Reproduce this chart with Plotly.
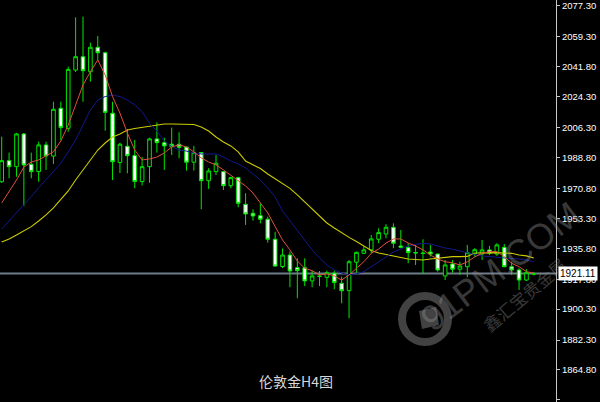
import plotly.graph_objects as go

# ---------------- data ----------------
bars = list(range(73))

opens = [1974.7, 1987.0, 1983.5, 2002.6, 1984.9, 1980.6, 1996.2, 1989.7, 2017.6, 2005.9,
         2039.9, 2047.7, 2038.9, 2053.2, 2050.0, 2014.7, 1985.9, 1995.4, 1990.0, 1974.8,
         1983.5, 1999.7, 1997.5, 1996.6, 1996.6, 1995.0, 1986.1, 1991.7, 1975.3, 1980.6,
         1980.6, 1972.4, 1977.1, 1961.5, 1956.3, 1954.9, 1952.8, 1941.1, 1925.2, 1931.9,
         1924.5, 1924.5, 1916.8, 1919.7, 1918.9, 1921.3, 1915.4, 1911.1, 1927.7, 1932.9,
         1934.9, 1941.1, 1944.2, 1948.1, 1937.2, 1936.4, 1933.4, 1933.1, 1933.7, 1932.5,
         1919.7, 1926.7, 1923.6, 1925.1, 1932.5, 1932.5, 1934.9, 1932.5, 1936.4, 1925.1,
         1923.2, 1917.3, 1920.6]

highs = [2001.0, 1991.7, 2003.2, 2003.2, 1991.7, 1998.1, 1998.1, 2021.4, 2021.4, 2041.9,
         2070.7, 2071.1, 2055.9, 2059.8, 2050.6, 2021.4, 1997.5, 2005.5, 1999.1, 1989.2,
         2000.4, 2009.4, 2000.4, 2006.3, 2003.6, 1995.0, 1995.6, 1992.0, 1982.6, 1990.3,
         1980.6, 1977.6, 1977.6, 1968.0, 1958.6, 1962.1, 1954.3, 1945.5, 1935.7, 1933.9,
         1930.0, 1930.0, 1922.8, 1922.6, 1922.8, 1922.8, 1919.3, 1929.0, 1933.9, 1936.8,
         1943.6, 1947.5, 1949.9, 1950.4, 1946.5, 1938.8, 1937.8, 1941.1, 1937.8, 1932.5,
         1929.0, 1929.0, 1928.0, 1937.8, 1935.9, 1940.7, 1937.2, 1938.8, 1938.4, 1928.0,
         1924.2, 1923.6, 1922.0]

lows = [1974.0, 1976.7, 1977.6, 1960.5, 1976.7, 1974.7, 1981.6, 1985.1, 1999.1, 2003.9,
        2038.8, 2021.4, 2033.1, 2045.8, 2004.5, 1975.7, 1979.8, 1979.6, 1970.9, 1972.5,
        1974.1, 1991.7, 1981.6, 1990.3, 1988.4, 1981.2, 1981.2, 1958.6, 1970.5, 1978.6,
        1969.9, 1970.9, 1959.8, 1949.5, 1952.0, 1950.4, 1939.1, 1924.9, 1924.3, 1913.1,
        1906.7, 1913.8, 1913.1, 1913.8, 1913.1, 1911.9, 1903.7, 1895.0, 1921.6, 1932.5,
        1932.9, 1938.8, 1941.7, 1935.9, 1935.9, 1927.1, 1926.1, 1920.9, 1931.0, 1922.2,
        1917.3, 1921.6, 1920.3, 1918.9, 1931.0, 1929.0, 1931.9, 1931.4, 1924.8, 1920.3,
        1911.5, 1916.8, 1920.0]

closes = [1987.0, 1983.5, 2002.6, 1984.5, 1980.6, 1996.2, 1989.7, 2017.0, 2006.3, 2040.3,
          2047.7, 2039.5, 2053.2, 2050.0, 2015.2, 1986.4, 1996.6, 1989.9, 1974.8, 1983.5,
          1999.7, 1997.5, 1995.6, 1995.2, 1994.8, 1986.1, 1991.7, 1975.3, 1981.0, 1985.5,
          1972.4, 1977.1, 1962.1, 1955.9, 1954.7, 1952.8, 1941.1, 1925.5, 1931.9, 1922.6,
          1922.8, 1916.8, 1919.7, 1919.4, 1921.6, 1915.8, 1911.1, 1928.0, 1933.5, 1934.9,
          1941.3, 1945.0, 1948.1, 1938.8, 1936.4, 1933.3, 1933.1, 1932.8, 1932.5, 1923.2,
          1926.1, 1923.6, 1925.5, 1933.3, 1935.0, 1934.9, 1932.9, 1937.8, 1925.1, 1923.2,
          1917.3, 1921.6, 1921.11]

ma_red = [1962.3, 1968.7, 1975.7, 1983.3, 1986.2, 1987.4, 1989.9, 1992.2, 1998.5, 2007.8,
          2019.5, 2031.2, 2038.9, 2045.8, 2037.0, 2024.4, 2014.7, 2003.2, 1993.2, 1987.4,
          1988.0, 1989.1, 1991.5, 1995.0, 1996.2, 1995.0, 1992.1, 1988.6, 1986.2, 1984.5,
          1981.6, 1978.6, 1975.7, 1972.2, 1968.1, 1962.3, 1956.5, 1948.5, 1940.7, 1934.9,
          1928.4, 1924.2, 1922.8, 1920.3, 1920.9, 1919.7, 1917.3, 1920.3, 1924.2, 1928.0,
          1932.9, 1935.4, 1938.9, 1941.3, 1941.3, 1938.9, 1937.2, 1934.9, 1931.9, 1929.6,
          1928.0, 1927.4, 1926.1, 1927.9, 1930.8, 1932.9, 1933.9, 1933.9, 1931.0, 1927.1,
          1925.1, 1922.2, 1921.3]

ma_blue = [1947.1, 1951.8, 1956.3, 1961.1, 1966.0, 1971.1, 1975.7, 1980.4, 1985.5, 1992.1,
           1999.1, 2007.8, 2016.6, 2022.4, 2024.4, 2025.3, 2024.4, 2022.4, 2019.5, 2015.6,
           2008.8, 2004.3, 1998.5, 1995.2, 1993.2, 1992.6, 1991.5, 1990.9, 1990.9, 1990.9,
           1989.2, 1986.8, 1985.1, 1982.7, 1979.2, 1975.7, 1971.1, 1965.8, 1957.6, 1951.8,
           1946.5, 1940.7, 1934.9, 1930.2, 1926.1, 1923.2, 1921.4, 1920.3, 1920.9, 1922.2,
           1924.9, 1927.9, 1930.8, 1933.7, 1935.4, 1937.2, 1938.1, 1938.7, 1938.4, 1937.2,
           1936.0, 1935.3, 1934.3, 1932.9, 1932.2, 1931.4, 1930.8, 1930.6, 1930.2, 1930.0,
           1929.6, 1929.0, 1928.0]

ma_yellow = [1939.5, 1941.3, 1943.6, 1946.0, 1948.5, 1951.8, 1955.3, 1959.4, 1964.1, 1969.3,
             1975.7, 1981.5, 1987.4, 1993.2, 1997.3, 2000.8, 2002.6, 2004.9, 2005.8, 2006.5,
             2006.8, 2007.8, 2008.4, 2008.4, 2008.4, 2008.4, 2008.1, 2006.7, 2004.3, 2000.8,
             1997.9, 1995.6, 1992.1, 1986.8, 1984.5, 1982.4, 1979.2, 1976.3, 1973.4, 1970.8,
             1967.0, 1962.9, 1958.2, 1954.4, 1950.6, 1947.7, 1944.8, 1942.2, 1939.8, 1937.2,
             1934.6, 1933.1, 1932.2, 1931.4, 1930.5, 1929.6, 1929.3, 1929.0, 1929.6, 1930.2,
             1930.8, 1931.0, 1931.0, 1931.1, 1933.1, 1933.3, 1933.3, 1933.3, 1933.1, 1932.9,
             1931.9, 1931.4, 1930.2]

tick_values = [2077.30, 2059.30, 2041.80, 2024.30, 2006.30, 1988.80, 1970.80,
               1953.30, 1935.80, 1917.80, 1900.30, 1882.30, 1864.80, 1847.30]
tick_labels = ["2077.30", "2059.30", "2041.80", "2024.30", "2006.30", "1988.80", "1970.80",
               "1953.30", "1935.80", "1917.80", "1900.30", "1882.30", "1864.80", "1847.30"]

current_price = 1921.11
current_label = "1921.11"
title_text = "伦敦金H4图"
watermark_main = "91PM.COM"
watermark_cn = "鑫汇宝贵金属"

# ---------------- figure ----------------
GREEN = "#00e600"
W, H = 600, 402
PW = 556  # plot area width in px

fig = go.Figure()

fig.add_trace(go.Scatter(x=bars, y=ma_yellow, mode="lines",
                         line=dict(color="#cccc00", width=1.1), hoverinfo="skip", showlegend=False))
fig.add_trace(go.Scatter(x=bars, y=ma_blue, mode="lines",
                         line=dict(color="#101a8c", width=1), hoverinfo="skip", showlegend=False))
fig.add_trace(go.Scatter(x=bars, y=ma_red, mode="lines",
                         line=dict(color="#e0503c", width=1), hoverinfo="skip", showlegend=False))

fig.add_trace(go.Candlestick(
    x=bars, open=opens, high=highs, low=lows, close=closes,
    increasing=dict(line=dict(color=GREEN, width=1), fillcolor="#000000"),
    decreasing=dict(line=dict(color=GREEN, width=1), fillcolor="#ffffff"),
    whiskerwidth=0, showlegend=False, hoverinfo="skip"))

def px_x(p):
    return p / PW

def px_y(p):
    return 1 - p / H

shapes = [
    # current price line
    dict(type="line", xref="paper", yref="y", x0=0, x1=1, y0=current_price, y1=current_price,
         line=dict(color="#6f7c8a", width=2), layer="below"),
    # watermark logo ring
    dict(type="circle", xref="paper", yref="paper",
         x0=px_x(402), x1=px_x(448), y0=px_y(342), y1=px_y(296),
         line=dict(color="rgba(120,120,120,0.55)", width=8), layer="above"),
    dict(type="path", xref="paper", yref="paper",
         path="M {:.4f},{:.4f} L {:.4f},{:.4f} L {:.4f},{:.4f} L {:.4f},{:.4f} Z".format(
             px_x(419), px_y(311), px_x(436), px_y(307), px_x(439), px_y(325), px_x(422), px_y(329)),
         fillcolor="rgba(120,120,120,0.55)", line=dict(width=0), layer="above"),
]

annotations = [
    dict(text=title_text, xref="paper", yref="paper", x=px_x(296), y=px_y(381),
         showarrow=False, font=dict(family="Noto Sans CJK SC", size=14, color="#d8d8d8"),
         xanchor="center", yanchor="middle"),
    dict(text=watermark_main, xref="paper", yref="paper", x=px_x(500), y=px_y(266),
         showarrow=False, textangle=-37,
         font=dict(family="Liberation Sans", size=36, color="rgba(140,140,140,0.42)"),
         xanchor="center", yanchor="middle"),
    dict(text=watermark_cn, xref="paper", yref="paper", x=px_x(524), y=px_y(294),
         showarrow=False, textangle=-40,
         font=dict(family="Noto Sans CJK SC", size=17, color="rgba(140,140,140,0.42)"),
         xanchor="center", yanchor="middle"),
    dict(text=current_label, xref="paper", yref="y", x=1.0, y=current_price,
         xshift=2, showarrow=False, xanchor="left", yanchor="middle",
         bgcolor="#ffffff", borderpad=1,
         font=dict(family="Liberation Sans", size=10, color="#000000")),
]

fig.update_layout(
    width=W, height=H,
    margin=dict(l=0, r=W - PW, t=0, b=0),
    paper_bgcolor="#000000", plot_bgcolor="#000000",
    showlegend=False,
    shapes=shapes, annotations=annotations,
    xaxis=dict(range=[-0.23, 75.0], visible=False, rangeslider=dict(visible=False),
               showgrid=False, zeroline=False, fixedrange=True),
    yaxis=dict(range=[1846.1, 2080.8], side="right", showgrid=False, zeroline=False,
               tickmode="array", tickvals=tick_values, ticktext=tick_labels,
               ticks="outside", ticklen=3, tickcolor="#c8c8c8",
               showline=True, linecolor="#c8c8c8", linewidth=1,
               tickfont=dict(family="Liberation Sans", size=9.5, color="#ffffff"),
               fixedrange=True),
)

fig.write_html("out.html", config={"displayModeBar": False},
               post_script="document.body.style.margin='0';document.body.style.background='#000';")
